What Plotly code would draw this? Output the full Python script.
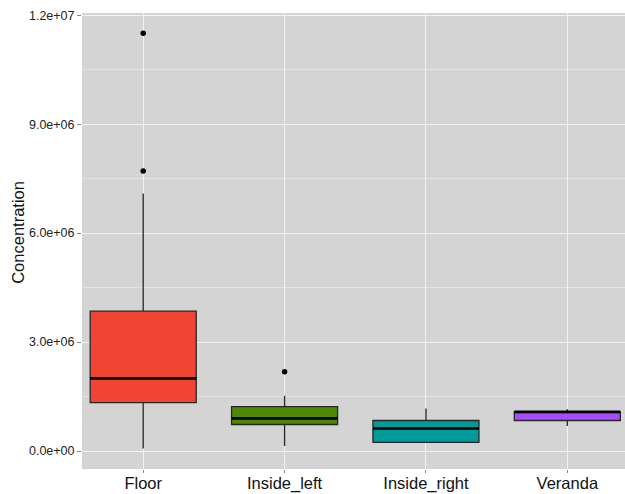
import plotly.graph_objects as go

categories = ["Floor", "Inside_left", "Inside_right", "Veranda"]
q1 = [1.33e6, 0.73e6, 0.24e6, 0.84e6]
median = [2.00e6, 0.90e6, 0.62e6, 1.08e6]
q3 = [3.85e6, 1.22e6, 0.84e6, 1.08e6]
lower = [0.07e6, 0.14e6, 0.22e6, 0.69e6]
upper = [7.09e6, 1.52e6, 1.17e6, 1.15e6]
outlier_cat = ["Floor", "Floor", "Inside_left"]
outlier_val = [11.50e6, 7.71e6, 2.18e6]
colors = ["#F14432", "#4D8900", "#009A9A", "#A64DFF"]

ytickvals = [0, 3e6, 6e6, 9e6, 12e6]
yticktext = ["0.0e+00", "3.0e+06", "6.0e+06", "9.0e+06", "1.2e+07"]

BOXW = 0.75
pos = {c: i + 1 for i, c in enumerate(categories)}
FONT = "Liberation Sans, Arial, sans-serif"

fig = go.Figure()
for i, c in enumerate(categories):
    x = pos[c]
    fig.add_trace(go.Box(
        x=[x], q1=[q1[i]], median=[median[i]], q3=[q3[i]],
        lowerfence=[lower[i]], upperfence=[upper[i]],
        width=BOXW, fillcolor=colors[i],
        line=dict(color="#262626", width=1.3),
        whiskerwidth=0, boxpoints=False, showlegend=False,
        hoverinfo="skip"))
    fig.add_trace(go.Scatter(
        x=[x - BOXW / 2, x + BOXW / 2], y=[median[i], median[i]],
        mode="lines", line=dict(color="#000000", width=2.6),
        showlegend=False, hoverinfo="skip"))

fig.add_trace(go.Scatter(
    x=[pos[c] for c in outlier_cat], y=outlier_val, mode="markers",
    marker=dict(color="#000000", size=5.5), showlegend=False))

fig.add_annotation(
    text="Concentration", xref="paper", yref="paper", x=0, y=0.518,
    xanchor="center", yanchor="middle",
    xshift=-64, textangle=-90, showarrow=False,
    font=dict(family=FONT, size=16.5, color="#111111"))

fig.update_layout(
    width=625, height=494,
    margin=dict(l=82, r=0, t=13, b=25),
    paper_bgcolor="white", plot_bgcolor="#D4D4D4",
    font=dict(family=FONT, color="#222222"),
    xaxis=dict(
        range=[0.567, 4.408], tickvals=[1, 2, 3, 4], ticktext=categories,
        showgrid=True, gridcolor="#F2F2F2", gridwidth=1.4, zeroline=False,
        ticks="outside", ticklen=3, tickcolor="#888888", automargin=False,
        ticklabelstandoff=-4,
        tickfont=dict(family=FONT, size=16.5, color="#111111")),
    yaxis=dict(
        range=[-0.495e6, 12.06e6], tickvals=ytickvals, ticktext=yticktext,
        showgrid=True, gridcolor="#F2F2F2", gridwidth=1.4, zeroline=False,
        ticks="outside", ticklen=4, tickcolor="#888888", automargin=False,
        tickfont=dict(family=FONT, size=12.5, color="#222222"),
        minor=dict(tickvals=[1.5e6, 4.5e6, 7.5e6, 10.5e6], showgrid=True,
                   gridcolor="#E4E4E4", gridwidth=0.8, ticks="")),
)

fig.write_html("out.html", config={"displayModeBar": False},
               post_script="document.body.style.margin='0';document.body.style.padding='0';")
